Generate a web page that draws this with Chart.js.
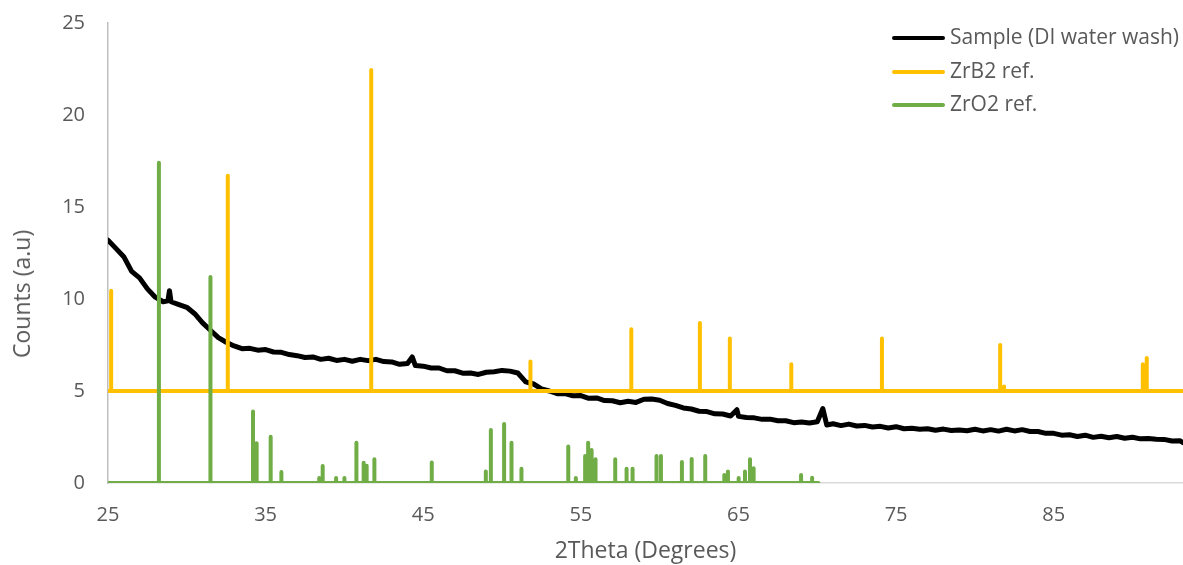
<!DOCTYPE html>
<html>
<head>
<meta charset="utf-8">
<script src="https://cdn.jsdelivr.net/npm/chart.js@4.4.1/dist/chart.umd.min.js"></script>
<style>
  body { margin: 0; background: #fff; }
  #wrap { position: relative; width: 1183px; height: 565px; }
  .row { position: absolute; left: 892px; height: 34px; line-height: 34px; white-space: nowrap;
         font-family: "Open Sans", sans-serif; font-size: 21px; color: #595959; }
  .row span.sw { display: inline-block; width: 53px; height: 4px; vertical-align: middle; margin-right: 5px; border-radius: 2px; }
  #ytitle { position: absolute; left: 21px; top: 294px; transform: translate(-50%, -50%) rotate(-90deg);
            white-space: nowrap; font-family: "Open Sans", sans-serif; font-size: 23px; color: #595959; }
</style>
</head>
<body>
<div id="wrap">
  <canvas id="xrd"></canvas>
  <div id="ytitle">Counts (a.u)</div>
  <div class="row" style="top:19px"><span class="sw" style="background:#000000"></span>Sample (DI water wash)</div>
  <div class="row" style="top:53px"><span class="sw" style="background:#ffc000"></span>ZrB2 ref.</div>
  <div class="row" style="top:86px"><span class="sw" style="background:#70ad47"></span>ZrO2 ref.</div>
</div>
<script>
// eixo x
const xTicks = [25, 35, 45, 55, 65, 75, 85];
const yTicks = [0, 5, 10, 15, 20, 25];

const sampleTheta = [25.0, 25.5, 26.0, 26.5, 27.0, 27.5, 28.0, 28.5, 28.8, 28.9, 29.0, 29.5, 30.0, 30.5, 31.0, 31.5, 32.0, 32.5, 33.0, 33.5,
  34.0, 34.5, 35.0, 35.5, 36.0, 36.5, 37.0, 37.5, 38.0, 38.5, 39.0, 39.5, 40.0, 40.5, 41.0, 41.5, 42.0, 42.5, 43.0, 43.5,
  44.0, 44.3, 44.5, 45.0, 45.5, 46.0, 46.5, 47.0, 47.5, 48.0, 48.5, 49.0, 49.5, 50.0, 50.5, 51.0, 51.5, 52.0, 52.5, 53.0,
  53.5, 54.0, 54.5, 55.0, 55.5, 56.0, 56.5, 57.0, 57.5, 58.0, 58.5, 59.0, 59.5, 60.0, 60.5, 61.0, 61.5, 62.0, 62.5, 63.0,
  63.5, 64.0, 64.5, 64.9, 65.0, 65.5, 66.0, 66.5, 67.0, 67.5, 68.0, 68.5, 69.0, 69.5, 70.0, 70.35, 70.6, 71.0, 71.5, 72.0,
  72.5, 73.0, 73.5, 74.0, 74.5, 75.0, 75.5, 76.0, 76.5, 77.0, 77.5, 78.0, 78.5, 79.0, 79.5, 80.0, 80.5, 81.0, 81.5, 82.0,
  82.5, 83.0, 83.5, 84.0, 84.5, 85.0, 85.5, 86.0, 86.5, 87.0, 87.5, 88.0, 88.5, 89.0, 89.5, 90.0, 90.5, 91.0, 91.5, 92.0,
  92.5, 93.0, 93.2];
const sampleCounts = [13.2, 12.75, 12.3, 11.5, 11.15, 10.55, 10.1, 9.85, 9.9, 10.45, 9.85, 9.7, 9.55, 9.2, 8.7, 8.3, 7.9, 7.65, 7.45, 7.3,
  7.32, 7.22, 7.25, 7.12, 7.1, 6.98, 6.92, 6.82, 6.85, 6.72, 6.78, 6.66, 6.72, 6.62, 6.72, 6.65, 6.72, 6.6, 6.58, 6.45,
  6.5, 6.85, 6.38, 6.35, 6.25, 6.25, 6.1, 6.1, 5.97, 5.98, 5.9, 6.02, 6.05, 6.12, 6.08, 5.98, 5.5, 5.38, 5.12, 5.0,
  4.85, 4.86, 4.74, 4.75, 4.6, 4.62, 4.48, 4.47, 4.36, 4.44, 4.38, 4.55, 4.56, 4.5, 4.32, 4.22, 4.08, 4.02, 3.9, 3.88,
  3.76, 3.75, 3.64, 3.98, 3.62, 3.56, 3.54, 3.46, 3.47, 3.38, 3.38, 3.28, 3.32, 3.26, 3.33, 4.05, 3.15, 3.22, 3.12, 3.2,
  3.1, 3.13, 3.04, 3.08, 2.99, 3.06, 2.95, 2.98, 2.92, 2.95, 2.87, 2.93, 2.85, 2.88, 2.84, 2.92, 2.83, 2.9, 2.82, 2.92,
  2.83, 2.9, 2.8, 2.8, 2.7, 2.7, 2.6, 2.62, 2.53, 2.6, 2.48, 2.54, 2.46, 2.53, 2.43, 2.49, 2.4, 2.42, 2.38, 2.37,
  2.28, 2.3, 2.2];

// referência ZrB2 (linha base em 5)
const zrb2Base = 5;
const zrb2End = 93.2;
const zrb2Theta = [25.2, 32.6, 41.7, 51.8, 58.2, 62.55, 64.45, 68.35, 74.1, 81.6, 81.85, 90.65, 90.9];
const zrb2Counts = [10.45, 16.7, 22.45, 6.6, 8.35, 8.7, 7.85, 6.45, 7.85, 7.5, 5.25, 6.45, 6.8];

// referência ZrO2 (linha base em 0)
const zro2Base = 0;
const zro2End = 70.07;
const zro2Theta = [28.23, 31.5, 34.2, 34.43, 35.32, 36.0, 38.4, 38.62, 39.47, 40.0, 40.76, 41.22, 41.41, 41.9, 45.54,
  48.97, 49.29, 50.13, 50.6, 51.23, 54.2, 54.68, 55.27, 55.46, 55.68, 55.93, 57.18, 57.9, 58.28, 59.8, 60.08,
  61.41, 62.03, 62.89, 64.1, 64.33, 65.01, 65.41, 65.73, 65.96, 68.97, 69.67];
const zro2Counts = [17.4, 11.2, 3.88, 2.16, 2.52, 0.6, 0.27, 0.92, 0.27, 0.27, 2.19, 1.1, 0.94, 1.29, 1.12,
  0.62, 2.88, 3.2, 2.19, 0.78, 1.99, 0.27, 1.47, 2.19, 1.79, 1.29, 1.29, 0.78, 0.78, 1.47, 1.47,
  1.14, 1.3, 1.47, 0.43, 0.62, 0.27, 0.62, 1.29, 0.8, 0.43, 0.29];

// monta as "varetas" de referência: base -> pico -> base
function sticks(theta, counts, base, end) {
  const pts = [{ x: 25, y: base }];
  theta.forEach((t, i) => {
    pts.push({ x: t, y: base });
    pts.push({ x: t, y: counts[i] });
    pts.push({ x: t, y: base });
  });
  pts.push({ x: end, y: base });
  return pts;
}

const sampleData = sampleTheta.map((t, i) => ({ x: t, y: sampleCounts[i] }));

const fonte = '"Open Sans", sans-serif';
const cinza = '#595959';

new Chart(document.getElementById('xrd'), {
  type: 'line',
  data: {
    datasets: [
      { label: 'Sample (DI water wash)', data: sampleData, borderColor: '#000000', borderWidth: 5, order: 3 },
      { label: 'ZrB2 ref.', data: sticks(zrb2Theta, zrb2Counts, zrb2Base, zrb2End), borderColor: '#ffc000', borderWidth: 4, order: 2 },
      { label: 'ZrO2 ref.', data: sticks(zro2Theta, zro2Counts, zro2Base, zro2End), borderColor: '#70ad47', borderWidth: 4, order: 1 }
    ]
  },
  options: {
    responsive: true,
    maintainAspectRatio: false,
    animation: false,
    layout: { padding: { top: 23, right: 0, bottom: 0, left: 0 } },
    elements: {
      point: { radius: 0 },
      line: { tension: 0, borderCapStyle: 'round', borderJoinStyle: 'round', fill: false }
    },
    plugins: { legend: { display: false }, tooltip: { enabled: false } },
    scales: {
      x: {
        type: 'linear',
        min: 25,
        max: 93.2,
        grid: { display: false, drawTicks: false },
        border: { display: true, color: '#d9d9d9', width: 1.5 },
        afterBuildTicks: (scale) => { scale.ticks = xTicks.map(v => ({ value: v })); },
        afterFit: (scale) => { scale.height = 82; },
        ticks: { color: cinza, font: { family: fonte, size: 20 }, padding: 20, maxRotation: 0 },
        title: { display: true, text: '2Theta (Degrees)', color: cinza, font: { family: fonte, size: 23 }, padding: { top: 0, bottom: 0 } }
      },
      y: {
        min: 0,
        max: 25,
        // tickLength faz o afastamento dos rótulos (padding aumentaria o topo)
        grid: { display: false, drawTicks: true, tickLength: 23 },
        border: { display: true, color: '#bfbfbf', width: 1.5 },
        afterBuildTicks: (scale) => { scale.ticks = yTicks.map(v => ({ value: v })); },
        afterFit: (scale) => { scale.width = 108; },
        ticks: { color: cinza, font: { family: fonte, size: 20 }, padding: 0 },
        title: { display: false }
      }
    }
  }
});
</script>
</body>
</html>
